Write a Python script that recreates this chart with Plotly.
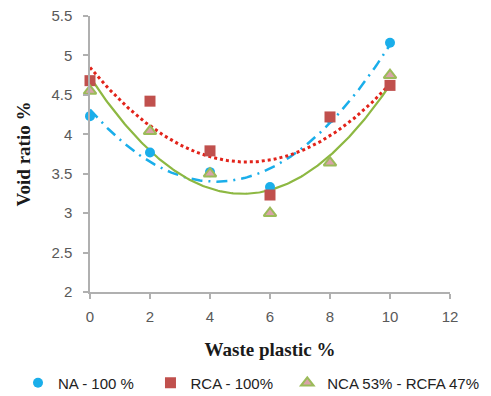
import numpy as np
import plotly.graph_objects as go

waste_plastic = [0, 2, 4, 6, 8, 10]
na_100 = [4.23, 3.77, 3.52, 3.33, 4.20, 5.16]
rca_100 = [4.68, 4.42, 3.79, 3.23, 4.22, 4.62]
nca_rcfa = [4.55, 4.04, 3.50, 3.00, 3.64, 4.75]

x_ticks = [0, 2, 4, 6, 8, 10, 12]
y_ticks = [2, 2.5, 3, 3.5, 4, 4.5, 5, 5.5]

xs = np.linspace(0, 10, 200)

def trend(y):
    c = np.polyfit(waste_plastic, y, 2)
    return np.polyval(c, xs)

fig = go.Figure()

# polynomial (order 2) trendlines, under markers
fig.add_trace(go.Scatter(x=xs, y=trend(na_100), mode="lines", showlegend=False,
                         line=dict(color="#1aaeea", width=2.5, dash="11px,6px,2px,6px"),
                         hoverinfo="skip"))
fig.add_trace(go.Scatter(x=xs, y=trend(rca_100), mode="lines", showlegend=False,
                         line=dict(color="#e2231a", width=3, dash="dot"),
                         hoverinfo="skip"))
fig.add_trace(go.Scatter(x=xs, y=trend(nca_rcfa), mode="lines", showlegend=False,
                         line=dict(color="#8db842", width=2.2),
                         hoverinfo="skip"))

fig.add_trace(go.Scatter(x=waste_plastic, y=na_100, mode="markers", name="NA - 100 %",
                         marker=dict(symbol="circle", size=10, color="#1aaeea"),
                         cliponaxis=False, legend="legend"))
fig.add_trace(go.Scatter(x=waste_plastic, y=rca_100, mode="markers", name="RCA - 100%",
                         marker=dict(symbol="square", size=11, color="#c0504d"),
                         cliponaxis=False, legend="legend2"))
fig.add_trace(go.Scatter(x=waste_plastic, y=nca_rcfa, mode="markers", name="NCA 53% - RCFA 47%",
                         marker=dict(symbol="triangle-up", size=11, color="#d9a3a8",
                                     line=dict(color="#9bbb59", width=2)),
                         cliponaxis=False, legend="legend3"))

leg_common = dict(orientation="h", y=-0.33, yanchor="middle", xanchor="left",
                  font=dict(size=15, color="#222222", family="Liberation Sans, Arial, sans-serif"),
                  bgcolor="rgba(0,0,0,0)", itemwidth=30)

fig.update_layout(
    width=483, height=388,
    margin=dict(l=82, r=41, t=8, b=104, autoexpand=False),
    paper_bgcolor="white", plot_bgcolor="white",
    font=dict(family="Liberation Sans, Arial, sans-serif", color="#595959", size=14),
    showlegend=True,
    legend=dict(x=-0.2, **leg_common),
    legend2=dict(x=0.168, **leg_common),
    legend3=dict(x=0.548, **leg_common),
)

fig.update_xaxes(
    range=[0, 12], tickvals=x_ticks, ticktext=[str(v) for v in x_ticks],
    showgrid=False, zeroline=False, showline=True, linecolor="#b0b0b0", linewidth=1.5,
    ticks="outside", ticklen=5, tickcolor="#b0b0b0", tickwidth=1.5,
    tickfont=dict(size=15, color="#595959"), ticklabelstandoff=5,
    ticklabeloverflow="allow",
    title=dict(text="<b>Waste plastic %</b>", standoff=19,
               font=dict(family="Liberation Serif, Times New Roman, serif", size=19, color="#1a1a1a")),
)
fig.update_yaxes(
    range=[2, 5.5], tickvals=y_ticks, ticktext=[f"{v:g}" for v in y_ticks],
    showgrid=False, zeroline=False, showline=True, linecolor="#b0b0b0", linewidth=1.5,
    ticks="outside", ticklen=5, tickcolor="#b0b0b0", tickwidth=1.5,
    tickfont=dict(size=15, color="#595959"), ticklabelstandoff=8,
    ticklabeloverflow="allow",
    title=dict(text="<b>Void ratio %</b>", standoff=16,
               font=dict(family="Liberation Serif, Times New Roman, serif", size=19, color="#1a1a1a")),
)

fig.write_html("out.html")
